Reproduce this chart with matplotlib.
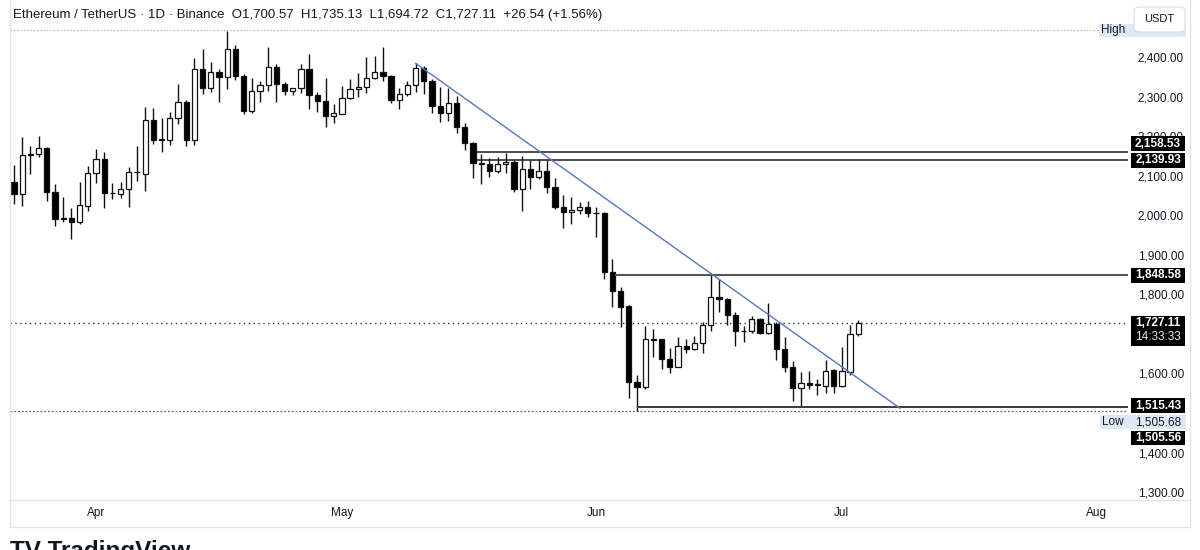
import matplotlib
matplotlib.use("Agg")
import matplotlib.pyplot as plt
import matplotlib.dates as mdates
from matplotlib.patches import Rectangle, FancyBboxPatch
import numpy as np
import pandas as pd

plt.rcParams['font.family'] = ['Liberation Sans', 'DejaVu Sans']

# ---------------- data ----------------
dates = pd.date_range('2023-03-22', periods=104, freq='D')

opens = [2083.2, 2052.8, 2153.1, 2155.0, 2170.0, 2059.6, 1990.5, 1994.0, 1982.0, 2024.0,
         2105.9, 2141.3, 2055.3, 2052.8, 2065.5, 2110.0, 2105.0, 2240.8, 2190.0, 2190.0,
         2245.0, 2287.0, 2190.2, 2370.6, 2322.5, 2361.3, 2348.6, 2420.3, 2352.0, 2264.4,
         2314.1, 2328.4, 2375.6, 2330.9, 2314.9, 2320.8, 2370.6, 2304.0, 2289.6, 2251.7,
         2256.8, 2297.2, 2318.3, 2323.4, 2347.0, 2361.3, 2352.0, 2291.3, 2306.5, 2328.4,
         2373.1, 2339.4, 2276.1, 2259.2, 2282.8, 2223.8, 2181.7, 2131.1, 2128.6, 2112.6,
         2128.6, 2133.7, 2065.4, 2116.8, 2097.4, 2111.7, 2072.1, 2021.6, 2007.2, 2013.1,
         2019.9, 2004.7, 2006.0, 1855.5, 1809.2, 1770.4, 1579.1, 1564.8, 1686.1, 1686.1,
         1635.6, 1617.0, 1669.3, 1660.9, 1676.0, 1722.4, 1792.3, 1789.0, 1747.7, 1707.2,
         1707.2, 1737.6, 1701.3, 1724.1, 1661.7, 1617.0, 1562.2, 1574.9, 1571.5, 1569.0,
         1608.6, 1569.0, 1604.4, 1700.57]
highs = [2127.0, 2198.6, 2175.0, 2200.3, 2173.3, 2078.1, 2046.9, 2017.4, 2084.8, 2125.3,
         2167.4, 2159.8, 2082.3, 2084.8, 2122.8, 2175.0, 2272.8, 2270.3, 2245.0, 2260.1,
         2330.9, 2291.3, 2396.7, 2419.4, 2387.4, 2369.7, 2466.6, 2430.4, 2357.1, 2346.1,
         2340.2, 2426.2, 2381.5, 2337.7, 2322.5, 2381.5, 2406.8, 2311.6, 2347.0, 2280.4,
         2326.7, 2344.4, 2358.7, 2399.2, 2402.6, 2426.2, 2353.7, 2321.7, 2340.2, 2384.0,
         2378.1, 2343.5, 2325.0, 2321.6, 2302.2, 2232.3, 2185.9, 2154.7, 2145.5, 2148.0,
         2156.4, 2139.6, 2149.7, 2139.6, 2141.3, 2139.6, 2093.2, 2051.1, 2046.9, 2034.2,
         2036.7, 2021.6, 2008.0, 1889.3, 1817.6, 1772.0, 1596.0, 1719.9, 1711.4, 1688.0,
         1665.1, 1691.2, 1686.1, 1694.6, 1729.1, 1848.6, 1837.8, 1790.0, 1754.4, 1720.7,
         1745.1, 1739.2, 1777.2, 1730.8, 1691.2, 1631.4, 1604.4, 1606.9, 1585.0, 1633.9,
         1610.3, 1667.6, 1722.4, 1735.13]
lows = [2027.5, 2024.2, 2104.2, 2148.1, 2036.0, 1971.9, 1983.7, 1939.0, 1978.0, 2011.5,
        2082.3, 2017.4, 2041.0, 2044.4, 2021.6, 2087.4, 2062.1, 2180.1, 2159.0, 2177.6,
        2229.8, 2175.0, 2177.6, 2306.5, 2310.7, 2287.1, 2319.1, 2341.9, 2255.1, 2257.6,
        2287.1, 2314.9, 2287.1, 2303.1, 2303.1, 2308.2, 2267.7, 2261.0, 2222.2, 2232.3,
        2255.1, 2294.7, 2298.1, 2309.9, 2343.6, 2340.2, 2282.9, 2267.7, 2301.4, 2312.4,
        2306.5, 2259.2, 2234.8, 2239.0, 2207.0, 2164.8, 2093.2, 2078.9, 2095.7, 2105.9,
        2107.5, 2057.8, 2011.5, 2065.4, 2091.5, 2055.3, 2015.7, 1966.8, 1976.9, 2003.0,
        1994.6, 1945.7, 1838.7, 1768.7, 1716.5, 1538.6, 1505.68, 1561.0, 1642.3, 1612.0,
        1600.2, 1615.0, 1650.7, 1659.2, 1652.4, 1708.1, 1756.1, 1722.4, 1669.3, 1678.6,
        1703.0, 1699.6, 1700.0, 1633.9, 1604.4, 1531.1, 1515.43, 1560.6, 1545.4, 1549.6,
        1549.6, 1566.5, 1596.0, 1694.72]
closes = [2052.8, 2153.1, 2155.0, 2169.1, 2059.6, 1990.5, 1993.8, 1982.0, 2025.8, 2105.9,
          2141.3, 2055.3, 2056.0, 2065.5, 2110.1, 2108.4, 2240.8, 2190.2, 2192.0, 2245.0,
          2286.3, 2190.2, 2370.6, 2322.5, 2361.3, 2348.6, 2420.3, 2352.0, 2264.4, 2314.1,
          2328.4, 2375.6, 2330.9, 2314.9, 2320.8, 2370.6, 2304.0, 2289.6, 2251.7, 2257.6,
          2297.2, 2318.3, 2323.4, 2347.0, 2361.3, 2352.0, 2291.3, 2306.5, 2328.4, 2373.1,
          2339.4, 2276.1, 2259.2, 2282.8, 2223.8, 2181.7, 2131.1, 2130.0, 2112.6, 2128.6,
          2133.7, 2065.4, 2116.8, 2097.4, 2111.7, 2072.1, 2021.6, 2007.2, 2013.1, 2019.9,
          2004.7, 2006.0, 1855.5, 1809.2, 1768.7, 1579.1, 1564.8, 1686.1, 1684.5, 1635.6,
          1617.0, 1669.3, 1660.9, 1676.0, 1722.4, 1792.3, 1789.0, 1747.7, 1707.2, 1708.0,
          1737.6, 1701.3, 1724.1, 1661.7, 1617.0, 1562.2, 1574.9, 1571.5, 1572.5, 1606.9,
          1569.0, 1606.1, 1698.8, 1727.11]

# drawings
trend_dates = pd.to_datetime(['2023-05-10 00:00', '2023-07-08 02:00'])
trend_prices = [2384.0, 1512.0]
ray_prices = [2158.53, 2139.93, 1848.58, 1515.43]
ray_starts = pd.to_datetime(['2023-05-17 11:00', '2023-05-17 11:00',
                             '2023-06-03 07:00', '2023-06-06 00:00'])
ray_colors = ['#1a1a1a', '#1a1a1a', '#555555', '#3a3a3a']
ray_widths = [1.1, 1.1, 1.5, 1.4]
last_price = 1727.11
range_high = 2468.0
range_low = 1505.68
low_mark = 1505.56
y_ticks = [1300, 1400, 1600, 1800, 1900, 2000, 2100, 2200, 2300, 2400]
month_ticks = pd.to_datetime(['2023-04-01', '2023-05-01', '2023-06-01', '2023-07-01', '2023-08-01'])
month_labels = ['Apr', 'May', 'Jun', 'Jul', 'Aug']
header = ("Ethereum / TetherUS \u00b7 1D \u00b7 Binance  O1,700.57  H1,735.13  "
          "L1,694.72  C1,727.11  +26.54 (+1.56%)")

# ---------------- figure ----------------
W, H = 1200, 550
fig = plt.figure(figsize=(W / 100, H / 100), dpi=100)
fig.patch.set_facecolor('white')


def fx(px):
    return px / W


def fy(py):
    return 1 - py / H


ax = fig.add_axes([fx(10), fy(500), fx(1128) - fx(10), fy(0) - fy(500)])
ax.set_facecolor('white')
for s in ax.spines.values():
    s.set_visible(False)

x = mdates.date2num(dates)
o = np.array(opens)
h = np.array(highs)
l = np.array(lows)
c = np.array(closes)
up = c >= o

ax.vlines(x, l, h, color='#111111', lw=1.0, zorder=3)
body_bottom = np.minimum(o, c)
body_h = np.maximum(np.abs(c - o), 1.2)
faces = np.where(up, 'white', 'black')
ax.bar(x, body_h, bottom=body_bottom, width=0.64, color=faces,
       edgecolor='#111111', linewidth=0.9, zorder=4)

x0 = x[0]
ax.set_xlim(x0 - 0.49, x0 + 135.9)
ax.set_ylim(1280, 2544)
xr = ax.get_xlim()[1]

# dotted range lines
ax.axhline(range_high, color='#9a9a9a', ls=(0, (1, 2)), lw=0.8, zorder=1)
ax.axhline(last_price, color='#333333', ls=(0, (1, 2.5)), lw=1.0, zorder=1)
ax.axhline(range_low, color='#666666', ls=(0, (1.5, 1.5)), lw=0.9, zorder=1)

# horizontal rays
for p, sd, col, lw in zip(ray_prices, ray_starts, ray_colors, ray_widths):
    ax.hlines(p, mdates.date2num(sd), xr, color=col, lw=lw, zorder=5)

# trend line
ax.plot(mdates.date2num(trend_dates), trend_prices, color='#5577c0', lw=1.0, zorder=6)

# axes ticks
ax.yaxis.tick_right()
ax.set_yticks(y_ticks)
ax.set_yticklabels([f"{v:,.2f}" for v in y_ticks])
ax.tick_params(axis='y', length=0, pad=7, labelsize=8.5, labelcolor='#131722')
ax.set_xticks(mdates.date2num(month_ticks))
ax.set_xticklabels(month_labels)
ax.tick_params(axis='x', length=0, pad=5, labelsize=8.5, labelcolor='#131722')

# frame lines (TradingView pane)
fig.add_artist(Rectangle((fx(10), fy(527)), fx(1190) - fx(10), fy(0) - fy(527) + 0.01,
                         transform=fig.transFigure, fill=False, ec='#e0e3eb', lw=1.0, zorder=1))
fig.add_artist(plt.Line2D([fx(10), fx(1190)], [fy(500), fy(500)], transform=fig.transFigure,
                          color='#e0e3eb', lw=1.0, zorder=1))

# header legend
fig.text(fx(13), fy(15), header, ha='left', va='center', fontsize=9.5, color='#131722')


def ypix(price):
    disp = ax.transData.transform((x0, price))
    return fig.transFigure.inverted().transform(disp)[1]


def box(yc, fc, x_a=1131, x_b=1185, hpx=15, z=20, ec='none'):
    fig.add_artist(Rectangle((fx(x_a), yc - hpx / 2 / H), fx(x_b) - fx(x_a), hpx / H,
                             transform=fig.transFigure, fc=fc, ec=ec, zorder=z))


def label(price, text, dy=0, hpx=15):
    yc = ypix(price) - dy / H
    box(yc, 'black', hpx=hpx)
    fig.text(fx(1158), yc, text, ha='center', va='center', fontsize=8.5,
             fontweight='bold', color='white', zorder=21)


label(2158.53, "2,158.53", dy=-8.5)
label(2139.93, "2,139.93", dy=0.5)
label(1848.58, "1,848.58")
label(1515.43, "1,515.43", dy=-1)
label(low_mark, "1,505.56", dy=27.5, hpx=14)

# last price box
yc = ypix(last_price)
box(yc - 7.5 / H, 'black', hpx=30)
fig.text(fx(1158), yc, "1,727.11", ha='center', va='center', fontsize=8.5,
         fontweight='bold', color='white', zorder=21)
fig.text(fx(1158), yc - 14 / H, "14:33:33", ha='center', va='center', fontsize=8.5,
         color='#e6e6e6', zorder=21)

# Low label
yl = ypix(range_low) - 11.5 / H
box(yl, '#dfe8f7', x_a=1100, x_b=1186, hpx=14, z=19)
fig.text(fx(1113), yl, "Low", ha='center', va='center', fontsize=8.5, color='#131722', zorder=21)
fig.text(fx(1158), yl, f"{range_low:,.2f}", ha='center', va='center', fontsize=8.5,
         color='#131722', zorder=21)

# High label (value hidden behind currency button)
yh = ypix(range_high)
box(yh, '#dfe8f7', x_a=1099, x_b=1186, hpx=13, z=19)
fig.text(fx(1113), yh, "High", ha='center', va='center', fontsize=8.5, color='#131722', zorder=21)

# USDT button
fig.add_artist(FancyBboxPatch((fx(1134), fy(32)), fx(1185) - fx(1134), fy(7) - fy(32),
                              boxstyle='round,pad=0,rounding_size=0.006',
                              transform=fig.transFigure, fc='white', ec='#d8dbe2', lw=0.8, zorder=22))
fig.text(fx(1159), fy(19), "USDT", ha='center', va='center', fontsize=8, color='#131722', zorder=23)

# TradingView logo (cut at bottom)
fig.text(fx(10), fy(540), "TV TradingView", ha='left', va='top', fontsize=17.5,
         fontweight='bold', color='#131722')

fig.savefig('out.png', dpi=100, facecolor='white')
